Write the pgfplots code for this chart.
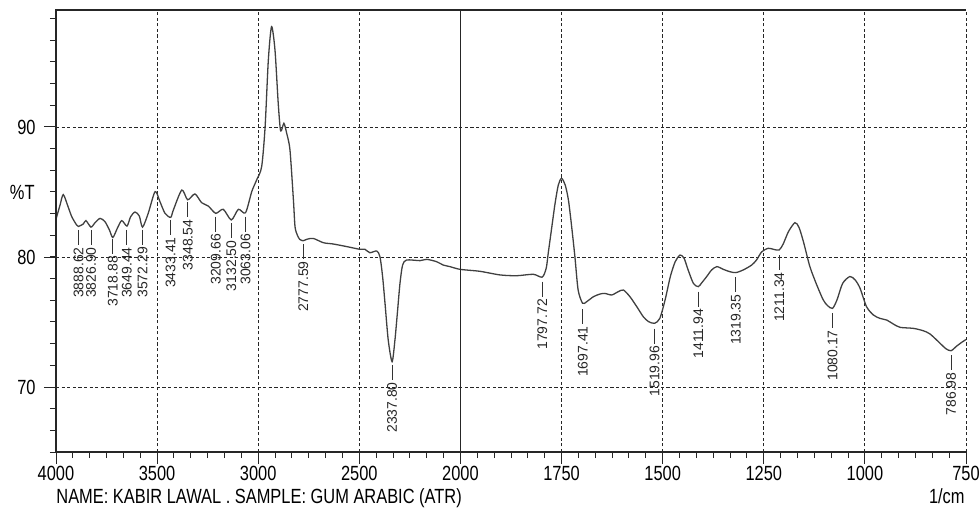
\documentclass[border=0pt]{standalone}
\usepackage{pgfplots}
\pgfplotsset{compat=1.18}
\usepackage{pgfplotstable}
\usepackage{fontspec}
\setmainfont{Liberation Sans}
\newfontfamily\narrowfont[FakeStretch=0.8]{Liberation Sans}

\pgfplotstableread{
w t
4000 82.9
3980 84.0
3964 84.8
3941 83.9
3922 83.1
3898 82.46
3889 82.35
3865 82.54
3852 82.8
3827 82.3
3807 82.64
3782 82.97
3758 82.72
3736 82.08
3719 81.5
3697 82.2
3675 82.8
3649 82.38
3631 83.1
3609 83.46
3588 83.15
3572 82.3
3544 83.36
3510 85.03
3486 84.26
3461 83.36
3433 83.05
3420 83.6
3378 85.15
3349 84.4
3313 84.85
3280 84.18
3247 83.92
3210 83.36
3173 83.67
3133 82.85
3098 83.67
3063 83.4
3032 85.03
3008 85.92
2983 86.95
2966 90.0
2950 95.15
2934 97.72
2917 95.9
2901 91.8
2889 89.7
2873 90.28
2859 89.5
2843 88.23
2826 84.4
2818 82.33
2807 81.7
2795 81.36
2778 81.25
2760 81.36
2728 81.43
2678 81.1
2629 81.0
2562 80.8
2497 80.59
2472 80.59
2448 80.33
2414 80.46
2398 80.02
2385 78.5
2373 76.44
2357 73.6
2338 71.95
2324 73.6
2312 75.67
2299 77.97
2286 79.38
2266 79.77
2200 79.72
2167 79.82
2118 79.64
2085 79.38
2052 79.26
2002 79.05
1952 78.9
1902 78.62
1861 78.56
1820 78.67
1798 78.45
1788 79.13
1783 80.28
1774 82.33
1766 84.13
1758 85.54
1750 86.05
1741 85.54
1733 84.38
1725 82.33
1717 80.02
1709 77.46
1698 76.44
1688 76.56
1671 76.95
1655 77.15
1643 77.2
1626 77.08
1610 77.33
1597 77.46
1581 76.95
1564 76.18
1548 75.41
1535 75.03
1520 74.9
1507 75.28
1494 76.7
1481 78.5
1469 79.64
1457 80.15
1447 79.9
1437 79.0
1424 77.97
1412 77.72
1403 78.03
1391 78.5
1379 79.0
1366 79.26
1350 79.05
1334 78.87
1319 78.8
1301 79.0
1280 79.38
1268 79.77
1255 80.4
1239 80.67
1226 80.59
1212 80.54
1202 81.0
1189 81.95
1173 82.64
1163 82.28
1152 81.18
1136 79.26
1119 77.85
1103 76.7
1092 76.25
1080 76.05
1069 76.7
1055 77.97
1037 78.5
1024 78.23
1012 77.6
996 76.18
979 75.54
963 75.28
946 75.15
930 74.85
913 74.59
880 74.51
856 74.33
839 74.08
814 73.36
800 72.95
787 72.79
773 73.15
760 73.45
750 73.65
}\spec

\newcommand{\pk}[3]{%
  \draw[black!80, line width=0.5bp] (axis cs:#1,#2) -- ([yshift=-7.5bp]axis cs:#1,#2);
  \node[rotate=90, anchor=east, inner sep=0pt, font=\fontsize{7}{8}\selectfont, text=black!85] at ([yshift=-8.5bp]axis cs:#1,#2) {#3};}

\begin{document}
\begin{tikzpicture}
\path[use as bounding box] (-28bp,-30bp) rectangle (461.5bp,226bp);
\begin{axis}[
  at={(0,0)}, anchor=south west,
  scale only axis, width=455bp, height=221bp,
  xmin=0, xmax=2250, ymin=65, ymax=99,
  clip mode=individual,
  axis line style={draw=none},
  xtick={0,250,...,2250},
  xticklabels={4000,3500,3000,2500,2000,1750,1500,1250,1000,750},
  minor xtick={0,41.6667,...,2251},
  ytick={70,80,90},
  minor ytick={65,66.6667,...,99.1},
  tick align=outside,
  tick pos=left,
  major tick length=6bp, minor tick length=3bp,
  every tick/.style={black!85, line width=0.5bp},
  grid=major,
  major grid style={black!85, line width=0.45bp, dash pattern=on 1.6bp off 1.2bp},
  /pgf/number format/assume math mode=true,
  xticklabel style={font=\narrowfont\fontsize{10.3}{12}\selectfont, anchor=north, inner sep=0pt, yshift=-1bp},
  yticklabel style={font=\narrowfont\fontsize{10.3}{12}\selectfont, anchor=east, inner sep=0pt, xshift=-4bp},
]
\addplot[black!75, line width=0.65bp, smooth, tension=0.45] table[x expr={\thisrow{w}>=2000 ? (4000-\thisrow{w})/2 : 3000-\thisrow{w}}, y=t] {\spec};
\draw[black!85, line width=0.6bp] (axis cs:1000,65) -- (axis cs:1000,99);
\draw[black!85, line width=0.6bp] (rel axis cs:0,0) -- (rel axis cs:0,1) -- (rel axis cs:1,1);
\draw[black!85, line width=0.6bp] (rel axis cs:0,0) -- (rel axis cs:1,0);
\pk{55.69}{82.08}{3888.62}
\pk{86.55}{82.08}{3826.90}
\pk{140.56}{81.4}{3718.88}
\pk{175.28}{82.08}{3649.44}
\pk{213.855}{82.1}{3572.29}
\pk{283.295}{82.85}{3433.41}
\pk{325.73}{84.2}{3348.54}
\pk{395.17}{83.1}{3209.66}
\pk{433.75}{82.6}{3132.50}
\pk{468.47}{83.1}{3063.06}
\pk{611.205}{81.0}{2777.59}
\pk{831.1}{71.7}{2337.80}
\pk{1202.28}{78.1}{1797.72}
\pk{1302.59}{76.0}{1697.41}
\pk{1480.04}{74.5}{1519.96}
\pk{1588.06}{77.33}{1411.94}
\pk{1680.65}{78.45}{1319.35}
\pk{1788.66}{80.15}{1211.34}
\pk{1919.83}{75.7}{1080.17}
\pk{2213.02}{72.45}{786.98}
\node[font=\narrowfont\fontsize{10.3}{12}\selectfont, anchor=east, inner sep=0pt] at ([xshift=-10.5bp]axis cs:0,85) {\%T};
\node[font=\narrowfont\fontsize{10.3}{12}\selectfont, anchor=base west, inner sep=0pt] at ([yshift=-25.5bp]rel axis cs:0,0) {NAME: KABIR LAWAL . SAMPLE: GUM ARABIC (ATR)};
\node[font=\narrowfont\fontsize{10.3}{12}\selectfont, anchor=base east, inner sep=0pt] at ([yshift=-25.5bp, xshift=-0.5bp]rel axis cs:1,0) {1/cm};
\end{axis}
\end{tikzpicture}
\end{document}
